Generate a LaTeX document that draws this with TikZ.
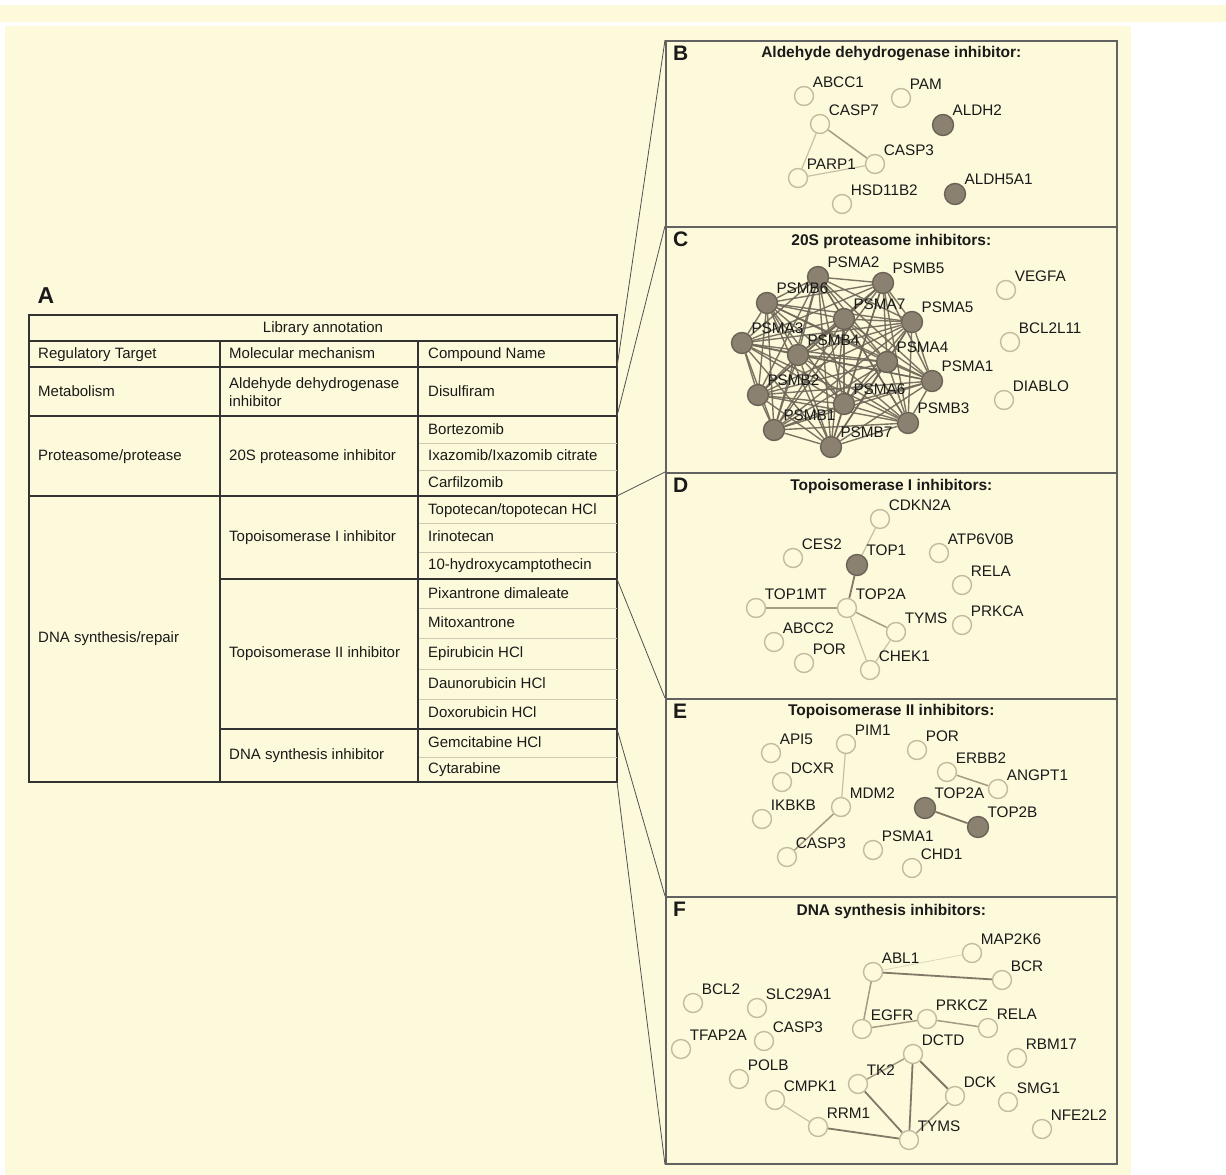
\documentclass[tikz,border=0pt]{standalone}
\usepackage{fontspec}
\setmainfont{Liberation Sans}
\usetikzlibrary{positioning, backgrounds}

\definecolor{paper}{HTML}{FDF9DB}
\definecolor{ink}{HTML}{1A1A1A}
\definecolor{ruledark}{HTML}{333333}
\definecolor{rulelight}{HTML}{CFC9B4}
\definecolor{geneline}{HTML}{C4BB9F}
\definecolor{hitfill}{HTML}{8A8171}
\definecolor{hitline}{HTML}{6A6255}
\definecolor{linkfaint}{HTML}{DDD6BF}
\definecolor{linkweak}{HTML}{C8C0A6}
\definecolor{linkmid}{HTML}{A59C85}
\definecolor{linkstrong}{HTML}{817868}
\definecolor{linkdense}{HTML}{6E6657}
\definecolor{frame}{HTML}{626262}

\begin{document}
\begin{tikzpicture}[x=1pt, y=-1pt, label distance=2pt,
    lbl/.style={font=\fontsize{15.3}{18}\selectfont, text=ink, inner sep=0pt},
    gene/.style={circle, draw=geneline, fill=paper, line width=1.4pt, minimum size=19pt, inner sep=0pt, label={[lbl]45:#1}},
    hit/.style={gene=#1, fill=hitfill, draw=hitline, minimum size=21pt},
    faint/.style={draw=linkfaint, line width=0.8pt},
    weak/.style={draw=linkweak, line width=1.2pt},
    mid/.style={draw=linkmid, line width=1.5pt},
    strong/.style={draw=linkstrong, line width=1.8pt},
    dense/.style={draw=linkdense, line width=1.4pt, opacity=0.9},
    panel/.style={draw=frame, line width=1.6pt, minimum width=451pt, anchor=north west, inner sep=0pt},
    ptitle/.style={font=\fontsize{15.5}{18}\selectfont\bfseries, text=ink, inner sep=0pt},
    letter/.style={font=\fontsize{21}{24}\selectfont\bfseries, text=ink, inner sep=0pt},
    cell/.style={anchor=west, font=\fontsize{15}{18}\selectfont, text=ink, inner sep=0pt, text height=11pt, text depth=3pt},
    rule/.style={draw=ruledark, line width=1.1pt},
    thinrule/.style={draw=rulelight, line width=0.7pt},
    zoomline/.style={draw=ruledark!85, line width=0.8pt}
]
\useasboundingbox (0,0) rectangle (1226,1175);

\begin{scope}[on background layer]
\fill[white] (0,0) rectangle (1226,1175);
\fill[paper] (0,5) rectangle (1226,22);
\fill[paper] (5,26) rectangle (1131,1175);
\end{scope}

% Table (A)
\node[letter, font=\fontsize{23}{26}\selectfont\bfseries] (lab-a) at (46,296) {A};

\draw[rule] (29,315) rectangle (617,782);
\draw[rule] (29,341) -- (617,341);
\draw[rule] (29,367) -- (617,367);
\draw[rule] (29,416) -- (617,416);
\draw[rule] (29,496) -- (617,496);
\draw[rule] (220,579) -- (617,579);
\draw[rule] (220,729) -- (617,729);
\draw[rule] (220,341) -- (220,782);
\draw[rule] (418,341) -- (418,782);
\foreach \y in {443,470,523,552,608,638,669,699,757}
  \draw[thinrule] (418.5,\y) -- (616.5,\y);

\node[cell, anchor=center] (t-lib) at (323,328) {Library annotation};
\node[cell] (t-target) at (38,354) {Regulatory Target};
\node[cell] (t-mech) at (229,354) {Molecular mechanism};
\node[cell] (t-comp) at (428,354) {Compound Name};

\node[cell] (t-metab) at (38,392) {Metabolism};
\node[cell, align=left, text height=, text depth=] (t-aldh) at (229,392) {Aldehyde dehydrogenase\\inhibitor};
\node[cell] (t-disul) at (428,392) {Disulfiram};

\node[cell] (t-prot) at (38,456) {Proteasome/protease};
\node[cell] (t-20s) at (229,456) {20S proteasome inhibitor};
\node[cell] (t-bort) at (428,430) {Bortezomib};
\node[cell] (t-ixa) at (428,456) {Ixazomib/Ixazomib citrate};
\node[cell] (t-carf) at (428,483) {Carfilzomib};

\node[cell] (t-dna) at (38,638) {DNA synthesis/repair};
\node[cell] (t-topo1) at (229,537) {Topoisomerase I inhibitor};
\node[cell] (t-topot) at (428,510) {Topotecan/topotecan HCl};
\node[cell] (t-irino) at (428,537) {Irinotecan};
\node[cell] (t-hcpt) at (428,565) {10-hydroxycamptothecin};
\node[cell] (t-topo2) at (229,653) {Topoisomerase II inhibitor};
\node[cell] (t-pixa) at (428,594) {Pixantrone dimaleate};
\node[cell] (t-mito) at (428,623) {Mitoxantrone};
\node[cell] (t-epi) at (428,653) {Epirubicin HCl};
\node[cell] (t-dauno) at (428,684) {Daunorubicin HCl};
\node[cell] (t-doxo) at (428,713) {Doxorubicin HCl};
\node[cell] (t-dsi) at (229,755) {DNA synthesis inhibitor};
\node[cell] (t-gem) at (428,743) {Gemcitabine HCl};
\node[cell] (t-cyt) at (428,769) {Cytarabine};

\coordinate (g0) at (617,367);
\coordinate (g1) at (617,416);
\coordinate (g2) at (617,496);
\coordinate (g3) at (617,579);
\coordinate (g4) at (617,729);
\coordinate (g5) at (617,782);

% Panels
\node[panel, minimum height=186pt] (pb) at (665,40) {};
\node[panel, minimum height=246pt] (pc) at (665,226) {};
\node[panel, minimum height=226pt] (pd) at (665,472) {};
\node[panel, minimum height=198pt] (pe) at (665,698) {};
\node[panel, minimum height=267pt] (pf) at (665,896) {};

\draw[zoomline] (g0) -- (pb.north west);
\draw[zoomline] (g1) -- (pc.north west);
\draw[zoomline] (g2) -- (pd.north west);
\draw[zoomline] (g3) -- (pe.north west);
\draw[zoomline] (g4) -- (pf.north west);
\draw[zoomline] (g5) -- (pf.south west);

\node[letter, below right=6pt and 8pt of pb.north west] (lab-b) {B};
\node[letter, below right=6pt and 8pt of pc.north west] (lab-c) {C};
\node[letter, below right=6pt and 8pt of pd.north west] (lab-d) {D};
\node[letter, below right=6pt and 8pt of pe.north west] (lab-e) {E};
\node[letter, below right=6pt and 8pt of pf.north west] (lab-f) {F};

\node[ptitle, below=6pt of pb.north] (tt-b) {Aldehyde dehydrogenase inhibitor:};
\node[ptitle, below=8pt of pc.north] (tt-c) {20S proteasome inhibitors:};
\node[ptitle, below=7pt of pd.north] (tt-d) {Topoisomerase I inhibitors:};
\node[ptitle, below=6pt of pe.north] (tt-e) {Topoisomerase II inhibitors:};
\node[ptitle, below=8pt of pf.north] (tt-f) {DNA synthesis inhibitors:};

% B
\node[gene=ABCC1] (b-abcc1) at (804,96) {};
\node[gene=PAM] (b-pam) at (901,98) {};
\node[gene=CASP7] (b-casp7) at (820,124) {};
\node[hit=ALDH2] (b-aldh2) at (943,125) {};
\node[gene=CASP3] (b-casp3) at (875,164) {};
\node[gene=PARP1] (b-parp1) at (798,178) {};
\node[hit=ALDH5A1] (b-aldh5a1) at (955,194) {};
\node[gene=HSD11B2] (b-hsd11b2) at (842,204) {};

% C
\node[hit=PSMA2] (c-a2) at (818,277) {};
\node[hit=PSMB5] (c-b5) at (883,283) {};
\node[hit=PSMB6] (c-b6) at (767,303) {};
\node[hit=PSMA7] (c-a7) at (844,319) {};
\node[hit=PSMA5] (c-a5) at (912,322) {};
\node[hit=PSMA3] (c-a3) at (742,343) {};
\node[hit=PSMB4] (c-b4) at (798,355) {};
\node[hit=PSMA4] (c-a4) at (887,362) {};
\node[hit=PSMA1] (c-a1) at (932,381) {};
\node[hit=PSMB2] (c-b2) at (758,395) {};
\node[hit=PSMA6] (c-a6) at (844,404) {};
\node[hit=PSMB3] (c-b3) at (908,423) {};
\node[hit=PSMB1] (c-b1) at (774,430) {};
\node[hit=PSMB7] (c-b7) at (831,447) {};
\node[gene=VEGFA] (c-vegfa) at (1006,290) {};
\node[gene=BCL2L11] (c-bcl2l11) at (1010,342) {};
\node[gene=DIABLO] (c-diablo) at (1004,400) {};

% D
\node[gene=CDKN2A] (d-cdkn2a) at (880,519) {};
\node[gene=CES2] (d-ces2) at (793,558) {};
\node[hit=TOP1] (d-top1) at (857,565) {};
\node[gene=ATP6V0B] (d-atp6v0b) at (939,553) {};
\node[gene=RELA] (d-rela) at (962,585) {};
\node[gene=TOP1MT] (d-top1mt) at (756,608) {};
\node[gene=TOP2A] (d-top2a) at (847,608) {};
\node[gene=PRKCA] (d-prkca) at (962,625) {};
\node[gene=TYMS] (d-tyms) at (896,632) {};
\node[gene=ABCC2] (d-abcc2) at (774,642) {};
\node[gene=POR] (d-por) at (804,663) {};
\node[gene=CHEK1] (d-chek1) at (870,670) {};

% E
\node[gene=API5] (e-api5) at (771,753) {};
\node[gene=PIM1] (e-pim1) at (846,744) {};
\node[gene=POR] (e-por) at (917,750) {};
\node[gene=DCXR] (e-dcxr) at (782,782) {};
\node[gene=ERBB2] (e-erbb2) at (947,772) {};
\node[gene=ANGPT1] (e-angpt1) at (998,789) {};
\node[gene=MDM2] (e-mdm2) at (841,807) {};
\node[hit=TOP2A] (e-top2a) at (925,808) {};
\node[gene=IKBKB] (e-ikbkb) at (762,819) {};
\node[hit=TOP2B] (e-top2b) at (978,827) {};
\node[gene=CASP3] (e-casp3) at (787,857) {};
\node[gene=PSMA1] (e-psma1) at (873,850) {};
\node[gene=CHD1] (e-chd1) at (912,868) {};

% F
\node[gene=MAP2K6] (f-map2k6) at (972,953) {};
\node[gene=ABL1] (f-abl1) at (873,972) {};
\node[gene=BCR] (f-bcr) at (1002,980) {};
\node[gene=BCL2] (f-bcl2) at (693,1003) {};
\node[gene=SLC29A1] (f-slc29a1) at (757,1008) {};
\node[gene=PRKCZ] (f-prkcz) at (927,1019) {};
\node[gene=EGFR] (f-egfr) at (862,1029) {};
\node[gene=RELA] (f-rela) at (988,1028) {};
\node[gene=TFAP2A] (f-tfap2a) at (681,1049) {};
\node[gene=CASP3] (f-casp3) at (764,1041) {};
\node[gene=DCTD] (f-dctd) at (913,1054) {};
\node[gene=RBM17] (f-rbm17) at (1017,1058) {};
\node[gene=POLB] (f-polb) at (739,1079) {};
\node[gene=TK2] (f-tk2) at (858,1084) {};
\node[gene=CMPK1] (f-cmpk1) at (775,1100) {};
\node[gene=DCK] (f-dck) at (955,1096) {};
\node[gene=SMG1] (f-smg1) at (1008,1102) {};
\node[gene=RRM1] (f-rrm1) at (818,1127) {};
\node[gene=TYMS] (f-tyms) at (909,1140) {};
\node[gene=NFE2L2] (f-nfe2l2) at (1042,1129) {};

% Interactions
\begin{scope}[on background layer]
\draw[mid] (b-casp7) -- (b-casp3);
\draw[weak] (b-casp7) -- (b-parp1);
\draw[weak] (b-parp1) -- (b-casp3);

\foreach \u [count=\i] in {a2,b5,b6,a7,a5,a3,b4,a4,a1,b2,a6,b3,b1,b7}
  \foreach \v [count=\j] in {a2,b5,b6,a7,a5,a3,b4,a4,a1,b2,a6,b3,b1,b7}
    {\ifnum\j>\i \draw[dense] (c-\u) -- (c-\v); \fi}

\draw[weak] (d-cdkn2a) -- (d-top1);
\draw[strong] (d-top1) -- (d-top2a);
\draw[mid] (d-top2a) -- (d-top1mt);
\draw[mid] (d-top2a) -- (d-tyms);
\draw[weak] (d-top2a) -- (d-chek1);
\draw[weak] (d-tyms) -- (d-chek1);

\draw[weak] (e-pim1) -- (e-mdm2);
\draw[mid] (e-mdm2) -- (e-casp3);
\draw[mid] (e-erbb2) -- (e-angpt1);
\draw[strong] (e-top2a) -- (e-top2b);

\draw[faint] (f-abl1) -- (f-map2k6);
\draw[strong] (f-abl1) -- (f-bcr);
\draw[mid] (f-abl1) -- (f-egfr);
\draw[mid] (f-egfr) -- (f-prkcz);
\draw[mid] (f-prkcz) -- (f-rela);
\draw[mid] (f-dctd) -- (f-tk2);
\draw[strong] (f-dctd) -- (f-tyms);
\draw[strong] (f-dctd) -- (f-dck);
\draw[mid] (f-dck) -- (f-tyms);
\draw[strong] (f-tk2) -- (f-tyms);
\draw[weak] (f-cmpk1) -- (f-rrm1);
\draw[strong] (f-rrm1) -- (f-tyms);
\end{scope}

\end{tikzpicture}
\end{document}
